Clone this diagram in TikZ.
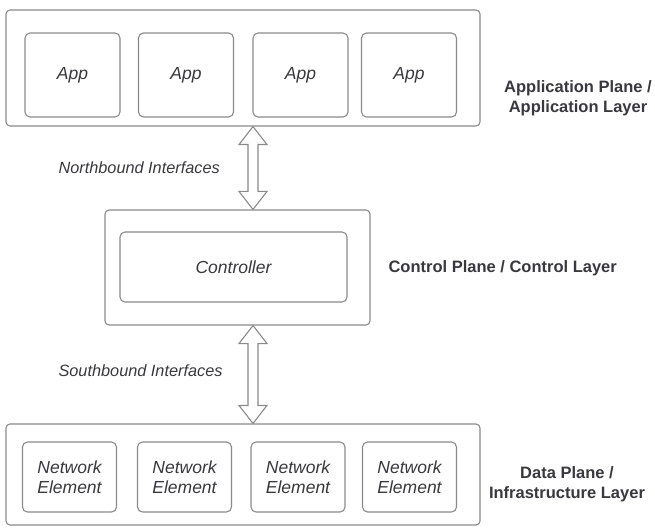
\documentclass[tikz,border=0pt]{standalone}
\usepackage{fontspec}
\setmainfont{Liberation Sans}
\usetikzlibrary{calc}
\definecolor{bordc}{HTML}{8A8A8A}
\definecolor{txtc}{HTML}{38383E}
\begin{document}
\begin{tikzpicture}[x=1pt,y=-1pt,
  outerbox/.style={draw=bordc,line width=1.1pt,rounded corners=4pt,inner sep=0pt},
  innerbox/.style={draw=bordc,line width=1.1pt,rounded corners=5pt,inner sep=0pt,
     font=\fontsize{17.5}{19.5}\selectfont\itshape,text=txtc,align=center},
  sidelabel/.style={font=\fontsize{16.5}{20}\selectfont\bfseries,text=txtc,align=center},
  iflabel/.style={font=\fontsize{16.3}{18}\selectfont\itshape,text=txtc},
  dblarrow/.style={draw=bordc,line width=1.1pt,fill=white,line join=miter}]
\useasboundingbox (0,0) rectangle (655,529);
% boxes
\node[outerbox,minimum width=474pt,minimum height=116pt] (app) at (243,68) {};
\foreach \i/\x in {1/72.5,2/186,3/300.5,4/409}{
  \node[innerbox,minimum width=95pt,minimum height=84pt] (a\i) at (\x,75) {App};
}
\node[outerbox,minimum width=265pt,minimum height=115pt] (ctl) at (237.5,267.5) {};
\node[innerbox,minimum width=227pt,minimum height=70pt] (con) at (233.5,267) {Controller};
\node[outerbox,minimum width=474pt,minimum height=101pt] (dat) at (243,474.5) {};
\foreach \i/\x in {1/69.5,2/184.5,3/298,4/409.5}{
  \node[innerbox,minimum width=94pt,minimum height=70pt] (n\i) at (\x,477) {Network\\Element};
}
% labels
\node[sidelabel] (lapp) at (578,98) {Application Plane /\\ Application Layer};
\node[sidelabel,anchor=west] (lctl) at (385,268) {Control Plane / Control Layer};
\node[sidelabel] (ldat) at (567,484) {Data Plane /\\ Infrastructure Layer};
\node[iflabel,anchor=west] (lnb) at (55,168) {Northbound Interfaces};
\node[iflabel,anchor=west] (lsb) at (55,371) {Southbound Interfaces};
% double arrows
\coordinate (ax) at (253,0);
\coordinate (p1) at (ax |- app.south);
\coordinate (q1) at (ax |- ctl.north);
\coordinate (p2) at (ax |- ctl.south);
\coordinate (q2) at (ax |- dat.north);
\foreach \p/\q in {p1/q1,p2/q2}{
  \draw[dblarrow] (\p) -- ($(\p)+(14,18)$) -- ($(\p)+(5,18)$) -- ($(\q)+(5,-18)$)
    -- ($(\q)+(14,-18)$) -- (\q) -- ($(\q)+(-14,-18)$) -- ($(\q)+(-5,-18)$)
    -- ($(\p)+(-5,18)$) -- ($(\p)+(-14,18)$) -- cycle;
}
\end{tikzpicture}
\end{document}
